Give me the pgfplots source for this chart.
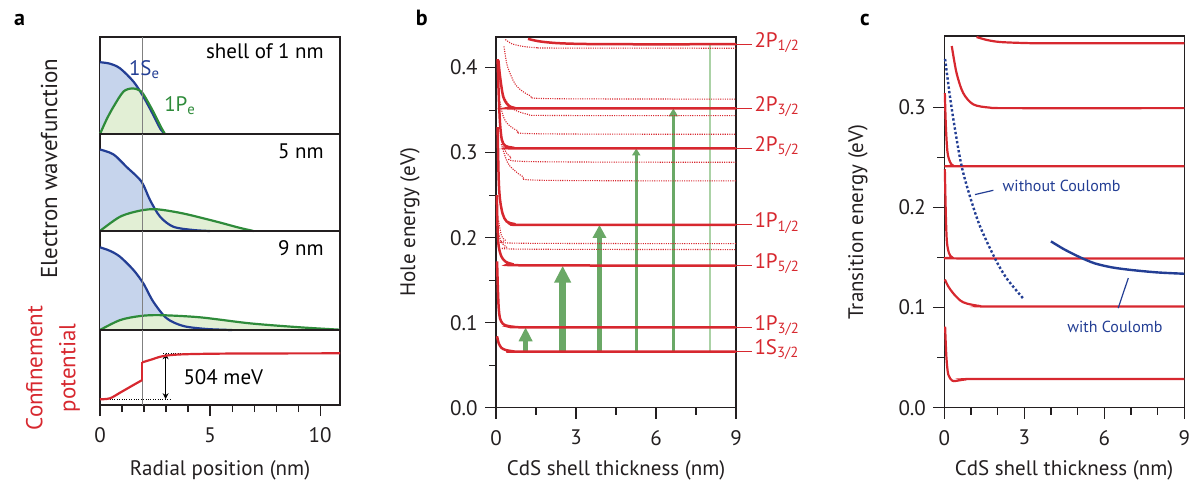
\documentclass[border=0pt]{standalone}
\usepackage{fontspec}
\setmainfont{PT Sans}
\usepackage{pgfplots}
\pgfplotsset{compat=1.18}
\usetikzlibrary{arrows.meta}

\definecolor{cred}{HTML}{D7282F}
\definecolor{cblue}{HTML}{233E94}
\definecolor{cgreen}{HTML}{2E8B3A}
\definecolor{bfill}{HTML}{C6D4EC}
\definecolor{gfill}{HTML}{E2EFD5}
\definecolor{agreen}{HTML}{6AA866}
\definecolor{lgreen}{HTML}{ABD2A6}
\definecolor{axisgray}{HTML}{231F20}

\pgfplotsset{
  base/.style={
    scale only axis, width=120pt, anchor=south west,
    axis line style={axisgray, line width=0.6pt},
    tick style={axisgray, line width=0.6pt}, tick align=outside,
    major tick length=5.5pt, minor tick length=3.5pt,
    tick pos=left,
    ticklabel style={font=\fontsize{10.5}{12}\selectfont, text=axisgray},
    xticklabel style={yshift=-2pt},
    /pgf/number format/assume math mode=true,
    clip=false,
  },
  wf/.style={base, xmin=0, xmax=10.9, ymin=0, ymax=1, xtick=\empty, ytick=\empty},
  wline/.style={line width=1.1pt, smooth},
  lvl/.style={cred, line width=1.25pt, smooth},
  dlvl/.style={cred, line width=0.55pt, smooth, dash pattern=on 0.55pt off 0.6pt},
}

\begin{document}
\begin{tikzpicture}
\useasboundingbox (0,0) rectangle (597.5pt,241.5pt);
\fontsize{10.5}{12}\selectfont

% ---------- panel a ----------
\begin{axis}[wf, at={(50pt,174.5pt)}, height=48.5pt]
\addplot[draw=none, fill=bfill, smooth] coordinates {(0,0.74) (0.45,0.725) (0.91,0.677) (1.52,0.54) (1.97,0.385) (2.42,0.196) (2.75,0.05) (2.95,0)} \closedcycle;
\addplot[draw=none, fill=gfill, smooth] coordinates {(0,0) (0.3,0.15) (0.61,0.28) (1.06,0.436) (1.45,0.47) (1.75,0.455) (1.97,0.41) (2.42,0.23) (2.75,0.08) (2.95,0)} \closedcycle;
\addplot[cblue, wline] coordinates {(0,0.74) (0.45,0.725) (0.91,0.677) (1.52,0.54) (1.97,0.385) (2.42,0.196) (2.75,0.05) (2.95,0)};
\addplot[cgreen, wline] coordinates {(0,0) (0.3,0.15) (0.61,0.28) (1.06,0.436) (1.45,0.47) (1.75,0.455) (1.97,0.41) (2.42,0.23) (2.75,0.08) (2.95,0)};
\draw[gray, line width=0.5pt] (axis cs:1.92,0) -- (axis cs:1.92,1);
\node[anchor=east] at (axis cs:10.5,0.85) {shell of 1 nm};
\node[cblue, anchor=base west, inner sep=0pt] at (axis cs:1.3,0.605) {1S\textsubscript{e}};
\node[cgreen, anchor=base west, inner sep=0pt] at (axis cs:2.9,0.23) {1P\textsubscript{e}};
\end{axis}

\begin{axis}[wf, at={(50pt,126pt)}, height=48.5pt]
\addplot[draw=none, fill=bfill, smooth] coordinates {(0,0.84) (0.61,0.79) (1.21,0.66) (1.88,0.51) (2.27,0.32) (2.73,0.147) (3.33,0.044) (4.24,0.01) (5,0)} \closedcycle;
\addplot[draw=none, fill=gfill, smooth] coordinates {(0,0) (0.91,0.147) (1.82,0.21) (2.58,0.224) (3.79,0.18) (5.3,0.096) (6.3,0.035) (6.97,0)} \closedcycle;
\addplot[cblue, wline] coordinates {(0,0.84) (0.61,0.79) (1.21,0.66) (1.88,0.51) (2.27,0.32) (2.73,0.147) (3.33,0.044) (4.24,0.01) (5,0)};
\addplot[cgreen, wline] coordinates {(0,0) (0.91,0.147) (1.82,0.21) (2.58,0.224) (3.79,0.18) (5.3,0.096) (6.3,0.035) (6.97,0)};
\draw[gray, line width=0.5pt] (axis cs:1.92,0) -- (axis cs:1.92,1);
\node[anchor=east] at (axis cs:10.5,0.82) {5 nm};
\end{axis}

\begin{axis}[wf, at={(50pt,76.5pt)}, height=49.5pt]
\addplot[draw=none, fill=bfill, smooth] coordinates {(0,0.835) (0.45,0.80) (0.91,0.74) (1.52,0.606) (1.97,0.47) (2.42,0.286) (3.03,0.118) (3.79,0.04) (4.85,0.01) (6,0)} \closedcycle;
\addplot[draw=none, fill=gfill, smooth] coordinates {(0,0) (0.91,0.1) (1.82,0.141) (2.73,0.15) (4.55,0.128) (6.82,0.067) (9.1,0.027) (10.9,0.003)} \closedcycle;
\addplot[cblue, wline] coordinates {(0,0.835) (0.45,0.80) (0.91,0.74) (1.52,0.606) (1.97,0.47) (2.42,0.286) (3.03,0.118) (3.79,0.04) (4.85,0.01) (6,0)};
\addplot[cgreen, wline] coordinates {(0,0) (0.91,0.1) (1.82,0.141) (2.73,0.15) (4.55,0.128) (6.82,0.067) (9.1,0.027) (10.9,0.003)};
\draw[gray, line width=0.5pt] (axis cs:1.92,0) -- (axis cs:1.92,1);
\node[anchor=east] at (axis cs:10.5,0.825) {9 nm};
\end{axis}

\begin{axis}[base, at={(50pt,39pt)}, height=37.5pt, xmin=0, xmax=10.9, ymin=0, ymax=1,
  ytick=\empty, xtick={0,5,10}, minor x tick num=4]
\draw[gray, line width=0.5pt] (axis cs:1.92,0) -- (axis cs:1.92,1);
\draw[black, line width=0.5pt, dash pattern=on 0.5pt off 0.7pt] (axis cs:0,0.078) -- (axis cs:3.26,0.078);
\draw[black, line width=0.5pt, dash pattern=on 0.5pt off 0.7pt] (axis cs:2.88,0.689) -- (axis cs:10.9,0.689);
\draw[black, line width=0.6pt, {Stealth[length=3pt,width=3pt]}-{Stealth[length=3pt,width=3pt]}] (axis cs:2.98,0.689) -- (axis cs:2.98,0.078);
\addplot[cred, line width=1.1pt, smooth] coordinates {(0,0.076) (0.45,0.089) (0.91,0.164) (1.52,0.267) (1.92,0.333)};
\addplot[cred, line width=1.1pt] coordinates {(1.92,0.333) (1.92,0.569)};
\addplot[cred, line width=1.1pt, smooth] coordinates {(1.92,0.569) (2.27,0.6) (2.88,0.653) (3.79,0.676) (6,0.686) (10.9,0.689)};
\node at (axis cs:5.6,0.377) {504 meV};
\end{axis}

% ---------- panel b ----------
\begin{axis}[base, at={(248pt,37.65pt)}, height=185.35pt, xmin=0, xmax=9, ymin=0, ymax=0.436,
  xtick={0,3,6,9}, minor x tick num=1, ytick={0,0.1,0.2,0.3,0.4}, minor y tick num=1,
  yticklabel style={/pgf/number format/.cd, fixed, fixed zerofill, precision=1}]
% transitions
\addplot[lgreen, line width=0.8pt] coordinates {(8.02,0.066) (8.02,0.4275)};
\addplot[agreen, line width=2.25pt, -{Triangle[width=6.5pt,length=7pt]}] coordinates {(1.11,0.066) (1.11,0.0946)};
\addplot[agreen, line width=3.25pt, -{Triangle[width=8pt,length=8.5pt]}] coordinates {(2.5,0.066) (2.5,0.167)};
\addplot[agreen, line width=2.75pt, -{Triangle[width=6.5pt,length=6.5pt]}] coordinates {(3.88,0.066) (3.88,0.215)};
\addplot[agreen, line width=1.75pt, -{Triangle[width=4pt,length=3.5pt]}] coordinates {(5.26,0.066) (5.26,0.305)};
\addplot[agreen, line width=1.75pt, -{Triangle[width=4.5pt,length=4pt]}] coordinates {(6.65,0.066) (6.65,0.352)};
% other levels (dotted)
\addplot[dlvl] coordinates {(0.35,0.433) (0.6,0.428) (1.0,0.425) (1.5,0.4235) (2.2,0.423) (9,0.4228)};
\addplot[dlvl] coordinates {(0.3,0.425) (0.4,0.405) (0.53,0.393) (0.78,0.378) (1.28,0.367) (2,0.3635) (9,0.363)};
\addplot[dlvl] coordinates {(0.12,0.40) (0.2,0.38) (0.3,0.366) (0.6,0.352) (1.2,0.345) (2,0.3437) (9,0.3435)};
\addplot[dlvl] coordinates {(0.15,0.36) (0.25,0.345) (0.4,0.335) (0.8,0.326) (1.5,0.3222) (9,0.3216)};
\addplot[dlvl] coordinates {(0.2,0.315) (0.35,0.302) (0.55,0.295) (1.2,0.2895) (9,0.2887)};
\addplot[dlvl] coordinates {(0.2,0.31) (0.35,0.295) (0.5,0.285) (1.0,0.272) (1.7,0.2675) (9,0.2667)};
\addplot[dlvl] coordinates {(0.1,0.22) (0.2,0.203) (0.35,0.197) (0.8,0.1935) (9,0.193)};
\addplot[dlvl] coordinates {(0.1,0.205) (0.2,0.195) (0.4,0.189) (0.9,0.1865) (9,0.186)};
% labelled levels (solid)
\addplot[lvl] coordinates {(0.04,0.084) (0.1,0.076) (0.2,0.0705) (0.35,0.068) (0.6,0.0665) (1.0,0.066) (9,0.066)};
\addplot[lvl] coordinates {(0.04,0.172) (0.07,0.14) (0.1,0.118) (0.15,0.105) (0.25,0.099) (0.4,0.0965) (0.7,0.095) (1.2,0.0946) (9,0.0946)};
\addplot[lvl] coordinates {(0.03,0.25) (0.06,0.21) (0.1,0.19) (0.2,0.178) (0.35,0.172) (0.6,0.169) (1.0,0.1675) (9,0.167)};
\addplot[lvl] coordinates {(0.06,0.33) (0.1,0.27) (0.15,0.245) (0.25,0.228) (0.4,0.219) (0.7,0.216) (1.2,0.215) (9,0.215)};
\addplot[lvl] coordinates {(0.06,0.41) (0.1,0.37) (0.15,0.335) (0.22,0.315) (0.35,0.308) (0.6,0.306) (1.0,0.305) (9,0.305)};
\addplot[lvl] coordinates {(0.09,0.409) (0.15,0.39) (0.27,0.366) (0.45,0.356) (0.65,0.353) (1.0,0.352) (9,0.352)};
\addplot[lvl] coordinates {(1.2,0.4338) (1.6,0.431) (2.2,0.429) (3.0,0.428) (4.5,0.4275) (9,0.4275)};
% level names
\draw[cred, line width=0.5pt] (axis cs:9,0.4275) -- (axis cs:9.6,0.4275) node[anchor=base west, inner sep=1pt, yshift=-1.5pt, text=cred] {2P\textsubscript{1/2}};
\draw[cred, line width=0.5pt] (axis cs:9,0.352) -- (axis cs:9.6,0.352) node[anchor=base west, inner sep=1pt, yshift=-1.5pt, text=cred] {2P\textsubscript{3/2}};
\draw[cred, line width=0.5pt] (axis cs:9,0.305) -- (axis cs:9.6,0.305) node[anchor=base west, inner sep=1pt, yshift=-1.5pt, text=cred] {2P\textsubscript{5/2}};
\draw[cred, line width=0.5pt] (axis cs:9,0.215) -- (axis cs:9.6,0.215) node[anchor=base west, inner sep=1pt, yshift=-1.5pt, text=cred] {1P\textsubscript{1/2}};
\draw[cred, line width=0.5pt] (axis cs:9,0.167) -- (axis cs:9.6,0.167) node[anchor=base west, inner sep=1pt, yshift=-1.5pt, text=cred] {1P\textsubscript{5/2}};
\draw[cred, line width=0.5pt] (axis cs:9,0.0946) -- (axis cs:9.6,0.0946) node[anchor=base west, inner sep=1pt, yshift=-1.5pt, text=cred] {1P\textsubscript{3/2}};
\draw[cred, line width=0.5pt] (axis cs:9,0.066) -- (axis cs:9.6,0.066) node[anchor=base west, inner sep=1pt, yshift=-1.5pt, text=cred] {1S\textsubscript{3/2}};
\end{axis}

% ---------- panel c ----------
\begin{axis}[base, at={(472.15pt,37.65pt)}, height=185.85pt, xmin=0, xmax=9, ymin=0, ymax=0.371,
  xtick={0,3,6,9}, minor x tick num=2, ytick={0,0.1,0.2,0.3}, minor y tick num=1,
  yticklabel style={/pgf/number format/.cd, fixed, fixed zerofill, precision=1}]
\addplot[lvl, line width=1.1pt] coordinates {(0.03,0.081) (0.08,0.05) (0.15,0.033) (0.3,0.027) (0.45,0.0268) (0.8,0.0282) (1.5,0.0287) (9,0.0287)};
\addplot[lvl, line width=1.1pt] coordinates {(0.02,0.128) (0.15,0.121) (0.34,0.114) (0.6,0.107) (0.84,0.104) (1.34,0.1015) (2,0.101) (9,0.101)};
\addplot[lvl, line width=1.1pt] coordinates {(0.02,0.238) (0.06,0.19) (0.1,0.165) (0.18,0.154) (0.3,0.150) (0.6,0.149) (9,0.149)};
\addplot[lvl, line width=1.1pt] coordinates {(0.02,0.314) (0.06,0.28) (0.12,0.255) (0.22,0.245) (0.34,0.2415) (0.6,0.241) (9,0.241)};
\addplot[lvl, line width=1.1pt] coordinates {(0.28,0.361) (0.46,0.334) (0.71,0.314) (1.09,0.3027) (1.71,0.2995) (2.5,0.299) (9,0.299)};
\addplot[lvl, line width=1.1pt] coordinates {(1.21,0.370) (1.6,0.367) (2.09,0.365) (3,0.364) (4,0.3637) (9,0.3637)};
\addplot[cblue, line width=1.2pt, smooth, dash pattern=on 1.2pt off 1.1pt] coordinates {(0.03,0.348) (0.21,0.311) (0.40,0.278) (0.65,0.241) (0.96,0.211) (1.34,0.181) (1.90,0.149) (2.34,0.129) (2.96,0.109)};
\addplot[cblue, line width=1.2pt, smooth] coordinates {(4.0,0.166) (4.5,0.158) (5.1,0.150) (5.65,0.144) (6.3,0.140) (7,0.1375) (8,0.135) (9,0.1337)};
\draw[cblue, line width=0.6pt] (axis cs:1.15,0.2127) -- (axis cs:1.84,0.217);
\node[cblue, anchor=west, inner sep=1pt, font=\fontsize{8}{9}\selectfont] at (axis cs:2.1,0.221) {without Coulomb};
\draw[cblue, line width=0.6pt] (axis cs:6.52,0.0994) -- (axis cs:6.9,0.1294);
\node[cblue, inner sep=1pt, font=\fontsize{8}{9}\selectfont] at (axis cs:6.4,0.081) {with Coulomb};
\end{axis}

% ---------- labels outside axes ----------
\node[anchor=base west, font=\fontsize{11}{13}\bfseries\selectfont] at (3.3pt,228.75pt) {a};
\node[anchor=base west, font=\fontsize{11}{13}\bfseries\selectfont] at (204.2pt,228.75pt) {b};
\node[anchor=base west, font=\fontsize{11}{13}\bfseries\selectfont] at (426.3pt,228.75pt) {c};
\node[rotate=90, font=\fontsize{11.5}{13}\selectfont, text=axisgray] at (24.5pt,157.25pt) {Electron wavefunction};
\node[rotate=90, align=center, font=\fontsize{11.5}{16.5}\selectfont, text=cred] at (26.5pt,57.5pt) {Confinement\\potential};
\node[text=axisgray] at (110pt,6.5pt) {Radial position (nm)};
\node[text=axisgray] at (308pt,6.5pt) {CdS shell thickness (nm)};
\node[text=axisgray] at (532pt,6.5pt) {CdS shell thickness (nm)};
\node[rotate=90, text=axisgray] at (205pt,130.5pt) {Hole energy (eV)};
\node[rotate=90, text=axisgray] at (429pt,130.5pt) {Transition energy (eV)};
\end{tikzpicture}
\end{document}
